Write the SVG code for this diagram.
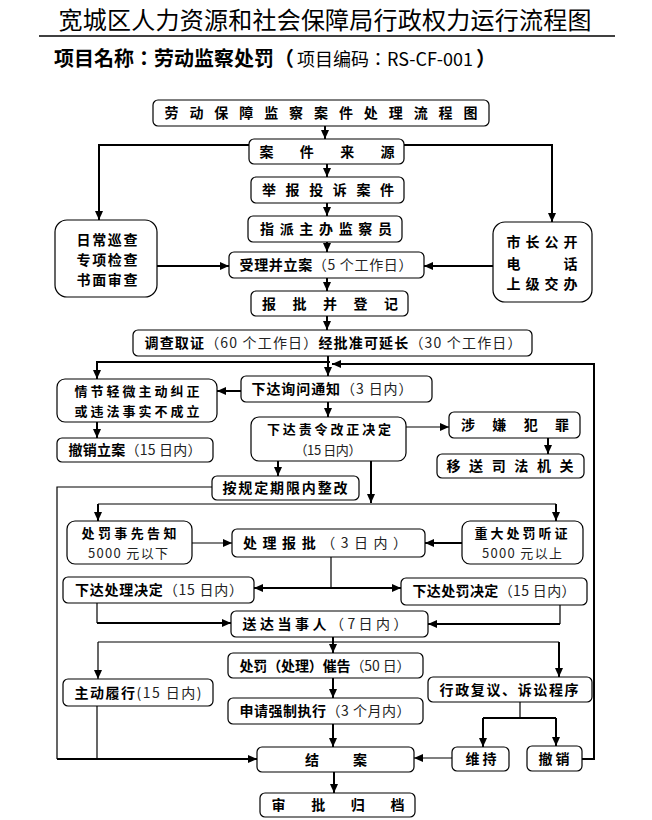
<svg xmlns="http://www.w3.org/2000/svg" width="652" height="820" viewBox="0 0 652 820">
<style>
.bx{fill:#fff;stroke:#000;stroke-width:1.2}
.t{font-family:"Noto Sans CJK SC","Noto Sans",sans-serif;font-size:14px;font-weight:bold;fill:#000;text-anchor:middle}
.n{font-weight:normal;fill:#222}
.s{font-size:13px}
.c path{fill:none;stroke:#000;stroke-width:2}
.c path.th{stroke-width:1.2}
</style>
<defs>
<marker id="ah" markerUnits="userSpaceOnUse" markerWidth="10" markerHeight="10" refX="9" refY="5" orient="auto">
<path d="M0,1 L9,5 L0,9 z" fill="#000"/>
</marker>
</defs>
<rect width="652" height="820" fill="#fff"/>
<g id="title">
<text x="325" y="29" style="font-family:'Noto Sans CJK SC',sans-serif;font-size:24px;text-anchor:middle" textLength="533">宽城区人力资源和社会保障局行政权力运行流程图</text>
<line x1="39" y1="36" x2="615" y2="36" stroke="#000" stroke-width="1.5"/>
<text x="54" y="66" style="font-family:'Noto Sans CJK TC','Noto Sans CJK SC',sans-serif;font-size:20px;font-weight:bold">项目名称：劳动监察处罚（<tspan style="font-weight:normal;font-size:18px" dx="3">项目编码：RS-CF-001</tspan><tspan dx="3">）</tspan></text>
</g>
<g class="c">
<path d="M325,126 V139" marker-end="url(#ah)"/>
<path d="M249,145 H99 V220" marker-end="url(#ah)"/>
<path d="M404,145 H552 V222" marker-end="url(#ah)"/>
<path d="M327,164 V177" marker-end="url(#ah)"/>
<path d="M327,203 V216" marker-end="url(#ah)"/>
<path d="M327,242 V252" marker-end="url(#ah)"/>
<path d="M157,266 H229" marker-end="url(#ah)"/>
<path d="M493,266 H424" marker-end="url(#ah)"/>
<path d="M327,278 V291" marker-end="url(#ah)"/>
<path d="M327,316 V330" marker-end="url(#ah)"/>
<path d="M328,356 V376" marker-end="url(#ah)"/>
<path d="M330,362 H97 V379" marker-end="url(#ah)"/>
<path d="M582,759 H594 V364 H332" marker-end="url(#ah)"/>
<path d="M241,391 H217" marker-end="url(#ah)"/>
<path d="M97,422 V438" marker-end="url(#ah)"/>
<path d="M328,402 V417" marker-end="url(#ah)"/>
<path class="th" d="M406,427 H449" marker-end="url(#ah)"/>
<path d="M548,438 V454" marker-end="url(#ah)"/>
<path d="M278,461 V476" marker-end="url(#ah)"/>
<path class="th" d="M212,487 H57 V759"/>
<path d="M57,759 H257" marker-end="url(#ah)"/>
<path d="M371,461 V503" marker-end="url(#ah)"/>
<path class="th" d="M98,504 H556"/>
<path d="M98,504 V521" marker-end="url(#ah)"/>
<path d="M556,504 V521" marker-end="url(#ah)"/>
<path class="th" d="M192,543 H232" marker-end="url(#ah)"/>
<path d="M462,543 H425" marker-end="url(#ah)"/>
<path class="th" d="M331,557 V588"/>
<path d="M331,588 H254" marker-end="url(#ah)"/>
<path d="M331,588 H401" marker-end="url(#ah)"/>
<path class="th" d="M97,603 V623"/>
<path d="M97,623 H231" marker-end="url(#ah)"/>
<path class="th" d="M560,605 V624"/>
<path d="M560,624 H428" marker-end="url(#ah)"/>
<path d="M333,637 V653" marker-end="url(#ah)"/>
<path class="th" d="M98,642 H559"/>
<path class="th" d="M98,642 V679" marker-end="url(#ah)"/>
<path d="M559,642 V677" marker-end="url(#ah)"/>
<path d="M333,678 V698" marker-end="url(#ah)"/>
<path d="M333,724 V747" marker-end="url(#ah)"/>
<path class="th" d="M97,706 V759"/>
<path class="th" d="M520,702 V718"/>
<path d="M483,718 H556"/>
<path d="M483,718 V747" marker-end="url(#ah)"/>
<path d="M556,718 V746" marker-end="url(#ah)"/>
<path class="th" d="M452,758 H414" marker-end="url(#ah)"/>
<path d="M334,772 V793" marker-end="url(#ah)"/>
</g>
<g id="n1"><rect class="bx" x="153" y="100" width="336" height="26" rx="5"/><text class="t" x="321" y="118" textLength="313">劳 动 保 障 监 察 案 件 处 理 流 程 图</text></g>
<g id="n2"><rect class="bx" x="249" y="139" width="155" height="25" rx="5"/><text class="t" x="327" y="157" textLength="135">案 件 来 源</text></g>
<g id="n3"><rect class="bx" x="251" y="177" width="153" height="26" rx="5"/><text class="t" x="328" y="195" textLength="132">举 报 投 诉 案 件</text></g>
<g id="n4"><rect class="bx" x="248" y="216" width="154" height="26" rx="5"/><text class="t" x="326" y="234" textLength="132">指 派 主 办 监 察 员</text></g>
<g id="n5"><rect class="bx" x="229" y="252" width="195" height="26" rx="5"/><text class="t" x="326" y="270" textLength="173">受理并立案<tspan class="n">（5 个工作日）</tspan></text></g>
<g id="n6"><rect class="bx" x="55" y="220" width="102" height="77" rx="12"/><text class="t" x="107" y="245" textLength="61">日常巡查</text><text class="t" x="107" y="265" textLength="61">专项检查</text><text class="t" x="107" y="285" textLength="61">书面审查</text></g>
<g id="n7"><rect class="bx" x="493" y="222" width="99" height="80" rx="12"/><text class="t" x="542" y="247" textLength="71">市长公开</text><text class="t" x="542" y="269" textLength="71">电    话</text><text class="t" x="542" y="289" textLength="71">上级交办</text></g>
<g id="n8"><rect class="bx" x="251" y="291" width="157" height="25" rx="5"/><text class="t" x="330" y="309" textLength="136">报 批 并 登 记</text></g>
<g id="n9"><rect class="bx" x="133" y="330" width="399" height="26" rx="5"/><text class="t" x="333" y="348" textLength="377">调查取证<tspan class="n">（60 个工作日）</tspan>经批准可延长<tspan class="n">（30 个工作日）</tspan></text></g>
<g id="n10"><rect class="bx" x="57" y="379" width="160" height="43" rx="8"/><text class="t s" x="137" y="396" textLength="125">情节轻微主动纠正</text><text class="t s" x="137" y="416" textLength="125">或违法事实不成立</text></g>
<g id="n11"><rect class="bx" x="241" y="376" width="191" height="26" rx="5"/><text class="t" x="332" y="394" textLength="161">下达询问通知<tspan class="n">（3 日内）</tspan></text></g>
<g id="n12"><rect class="bx" x="57" y="438" width="156" height="24" rx="5"/><text class="t" x="135" y="455" textLength="133">撤销立案<tspan class="n">（15 日内）</tspan></text></g>
<g id="n13"><rect class="bx" x="251" y="417" width="155" height="44" rx="8"/><text class="t s" x="329" y="434" textLength="124">下达责令改正决定</text><text class="t n s" x="328" y="455" textLength="67">（15 日内）</text></g>
<g id="n14"><rect class="bx" x="449" y="412" width="131" height="26" rx="5"/><text class="t" x="515" y="430" textLength="108">涉 嫌 犯 罪</text></g>
<g id="n15"><rect class="bx" x="437" y="454" width="147" height="24" rx="5"/><text class="t" x="510" y="471" textLength="127">移 送 司 法 机 关</text></g>
<g id="n16"><rect class="bx" x="212" y="476" width="147" height="24" rx="5"/><text class="t" x="285" y="493" textLength="125">按规定期限内整改</text></g>
<g id="n17"><rect class="bx" x="67" y="521" width="125" height="43" rx="8"/><text class="t s" x="129" y="538" textLength="95">处罚事先告知</text><text class="t n s" x="128" y="558" textLength="80">5000 元以下</text></g>
<g id="n18"><rect class="bx" x="232" y="529" width="193" height="28" rx="5"/><text class="t" x="325" y="548" textLength="164">处 理 报 批 <tspan class="n">（ 3 日 内 ）</tspan></text></g>
<g id="n19"><rect class="bx" x="462" y="521" width="121" height="43" rx="8"/><text class="t s" x="521" y="538" textLength="93">重大处罚听证</text><text class="t n s" x="522" y="558" textLength="80">5000 元以上</text></g>
<g id="n20"><rect class="bx" x="63" y="577" width="191" height="26" rx="5"/><text class="t" x="159" y="595" textLength="168">下达处理决定<tspan class="n">（15 日内）</tspan></text></g>
<g id="n21"><rect class="bx" x="401" y="578" width="186" height="27" rx="5"/><text class="t" x="494" y="596" textLength="163">下达处罚决定<tspan class="n">（15 日内）</tspan></text></g>
<g id="n22"><rect class="bx" x="231" y="611" width="197" height="26" rx="5"/><text class="t" x="325" y="629" textLength="165">送 达 当 事 人 <tspan class="n">（ 7 日 内 ）</tspan></text></g>
<g id="n23"><rect class="bx" x="228" y="653" width="195" height="25" rx="5"/><text class="t" x="325" y="671" textLength="171">处罚（处理）催告<tspan class="n">（50 日）</tspan></text></g>
<g id="n24"><rect class="bx" x="63" y="679" width="150" height="27" rx="5"/><text class="t" x="138" y="698" textLength="127">主动履行<tspan class="n">(15 日内)</tspan></text></g>
<g id="n25"><rect class="bx" x="228" y="698" width="195" height="26" rx="5"/><text class="t" x="325" y="716" textLength="171">申请强制执行<tspan class="n">（3 个月内）</tspan></text></g>
<g id="n26"><rect class="bx" x="428" y="677" width="164" height="25" rx="5"/><text class="t" x="509" y="695" textLength="139">行政复议、诉讼程序</text></g>
<g id="n27"><rect class="bx" x="257" y="747" width="157" height="25" rx="5"/><text class="t" x="336" y="765" textLength="62">结      案</text></g>
<g id="n28"><rect class="bx" x="452" y="747" width="57" height="24" rx="5"/><text class="t" x="481" y="764" textLength="31">维持</text></g>
<g id="n29"><rect class="bx" x="527" y="746" width="55" height="25" rx="5"/><text class="t" x="554" y="764" textLength="31">撤销</text></g>
<g id="n30"><rect class="bx" x="260" y="793" width="155" height="24" rx="5"/><text class="t" x="338" y="810" textLength="133">审 批 归 档</text></g>
</svg>
